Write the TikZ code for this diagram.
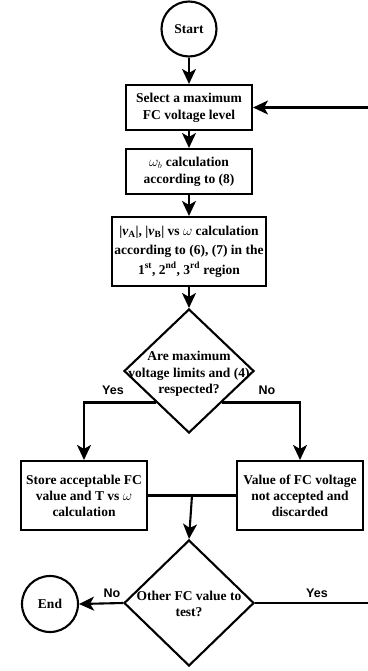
\documentclass[tikz,border=0pt]{standalone}
\usepackage{fontspec}
\setmainfont{Liberation Serif}
\newfontfamily\arialfont{Liberation Sans}
\usetikzlibrary{shapes.geometric,arrows.meta,calc}
\begin{document}
\begin{tikzpicture}[x=1pt,y=-1pt,
  txt/.style={font=\fontsize{13.5}{17}\selectfont\bfseries, align=center},
  box/.style={draw, line width=2.1pt, inner sep=0pt, txt},
  term/.style={draw, circle, line width=2.1pt, inner sep=0pt, txt},
  dia/.style={draw, diamond, line width=2.1pt, inner sep=0pt},
  arr/.style={line width=2.1pt, -{Stealth[length=15pt,width=14pt,inset=4pt]}},
  ln/.style={line width=2.1pt},
  lbl/.style={font=\arialfont\fontsize{12.5}{15}\selectfont\bfseries, inner sep=0pt}]
\useasboundingbox (0,0) rectangle (367,671);
\node[term, minimum size=55pt] (start) at (189,29) {Start};
\node[box, minimum width=126pt, minimum height=45pt] (b1) at (189,107.5) {Select a maximum\\FC voltage level};
\node[box, minimum width=126pt, minimum height=45pt] (b2) at (189,171.5) {$\omega_b$ calculation\\according to (8)};
\node[box, minimum width=154pt, minimum height=69pt, font=\fontsize{13.5}{19.5}\selectfont\bfseries] (b3) at (189,251.5) {|\textit{v}\textsubscript{A}|, |\textit{v}\textsubscript{B}| vs $\omega$ calculation\\according to (6), (7) in the\\1\textsuperscript{st}, 2\textsuperscript{nd}, 3\textsuperscript{rd} region};
\node[dia, minimum width=130pt, minimum height=124pt] (d1) at (189,371) {};
\node[txt, font=\fontsize{13.5}{16.5}\selectfont\bfseries] (t1) at (189,374) {Are maximum\\voltage limits and (4)\\respected?};
\node[box, minimum width=126pt, minimum height=69pt, font=\fontsize{13.5}{16}\selectfont\bfseries] (b4) at (84,495.5) {Store acceptable FC\\value and T vs $\omega$\\calculation};
\node[box, minimum width=126pt, minimum height=69pt, font=\fontsize{13.5}{16}\selectfont\bfseries] (b5) at (300,495.5) {Value of FC voltage\\not accepted and\\discarded};
\node[dia, minimum width=130pt, minimum height=126pt] (d2) at (189,603) {};
\node[txt, font=\fontsize{13.5}{16.5}\selectfont\bfseries] (t2) at (189,604) {Other FC value to\\test?};
\node[term, minimum size=56pt] (end) at (50,604) {End};
\node[lbl] (yes1) at (113,390) {Yes};
\node[lbl] (no1) at (267,390) {No};
\node[lbl] (no2) at (112,593) {No};
\node[lbl] (yes2) at (317,593) {Yes};
\coordinate (dl) at ($(d1.west)!0.5!(d1.south)$);
\coordinate (dr) at ($(d1.east)!0.5!(d1.south)$);
\coordinate (m) at ($(b4.east)!0.5!(b5.west)$);
\coordinate (rt) at (371,603);
\draw[arr] (start) -- (b1);
\draw[arr] (b1) -- (b2);
\draw[arr] (b2) -- (b3);
\draw[arr] (b3) -- (d1.north);
\draw[arr] (dl) -| (b4.north);
\draw[arr] (dr) -| (b5.north);
\draw[ln] (b4.east) -- (b5.west);
\draw[arr] (m) -- (d2.north);
\draw[arr] (d2.west) -- (end.east);
\draw[arr] (d2.east) -- (rt) |- (b1.east);
\end{tikzpicture}
\end{document}
